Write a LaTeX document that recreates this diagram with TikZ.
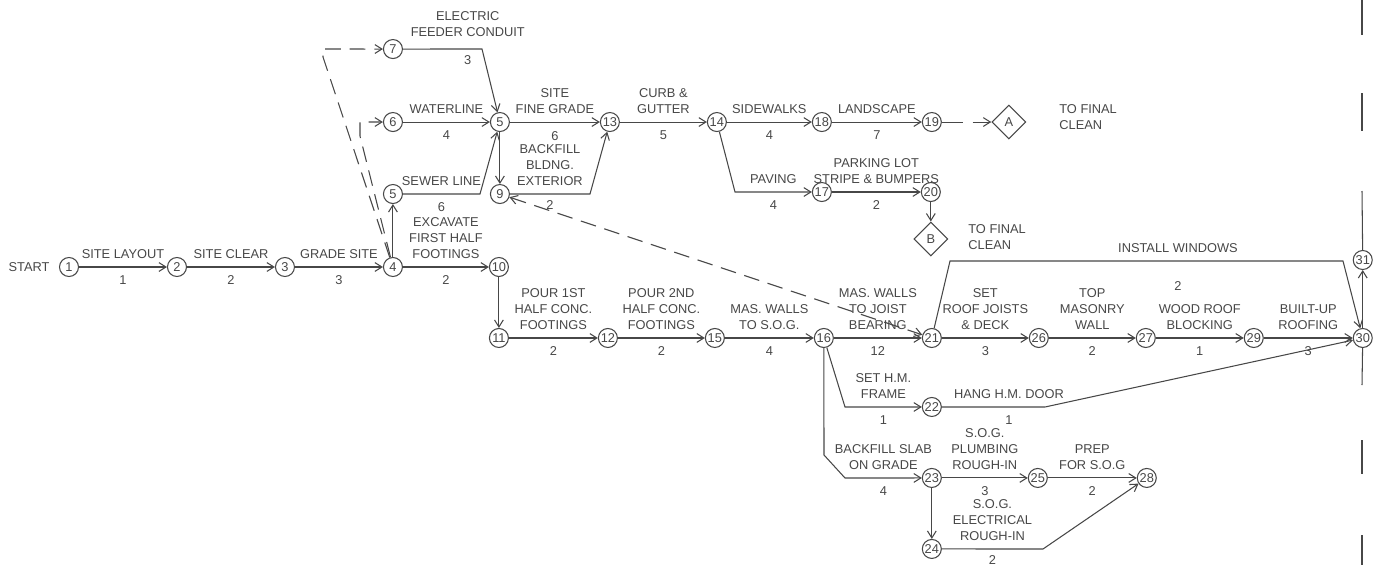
\documentclass[tikz,border=0pt]{standalone}
\usepackage{fontspec}
\setmainfont{Liberation Sans}
\usepackage{tikz}
\usetikzlibrary{shapes.geometric,arrows.meta,positioning}

\begin{document}
\begin{tikzpicture}[x=0.02cm, y=-0.02cm, color=black!72, line width=0.6pt,
  >={Straight Barb[length=4pt,width=5pt]},
  every node/.style={font=\fontsize{7.3}{9.3}\selectfont},
  ev/.style={circle, draw, inner sep=0pt, minimum size=0.38cm},
  fin/.style={diamond, draw, inner sep=0pt, minimum size=0.68cm},
  act/.style={above=1pt, align=center},
  dur/.style={below=1.5pt},
  dummy/.style={dash pattern=on 9pt off 5pt}]
  \useasboundingbox (0,0) rectangle (1380,565);

  \node (start) at (29,267) {START};
  \node [ev] (E1) at (69,267) {1};
  \node [ev, right of=E1, node distance=2.16cm] (E2) {2};
  \node [ev, right of=E2, node distance=2.16cm] (E3) {3};
  \node [ev, right of=E3, node distance=2.16cm] (E4) {4};
  \node [ev, above of=E4, node distance=1.46cm] (E5s) {5};
  \node [ev, above of=E5s, node distance=1.44cm] (E6) {6};
  \node [ev, above of=E6, node distance=1.46cm] (E7) {7};
  \node [ev, right of=E6, node distance=2.14cm] (E5) {5};
  \node [ev, below of=E5, node distance=1.44cm] (E9) {9};
  \node [ev, right of=E5, node distance=2.2cm] (E13) {13};
  \node [ev, right of=E13, node distance=2.14cm] (E14) {14};
  \node [ev, right of=E14, node distance=2.1cm] (E18) {18};
  \node [ev, right of=E18, node distance=2.2cm] (E19) {19};
  \node [fin, right of=E19, node distance=1.54cm] (FA) {A};
  \node [anchor=west, align=left] (cleanA) at (1053,117) {TO FINAL\\CLEAN};
  \node [ev, below of=E18, node distance=1.4cm] (E17) {17};
  \node [ev, right of=E17, node distance=2.18cm] (E20) {20};
  \node [fin, below of=E20, node distance=0.94cm] (FB) {B};
  \node [anchor=west, align=left] (cleanB) at (962,237) {TO FINAL\\CLEAN};
  \node [ev, right of=E4, node distance=2.12cm] (E10) {10};
  \node [ev, below of=E10, node distance=1.42cm] (E11) {11};
  \node [ev, right of=E11, node distance=2.18cm] (E12) {12};
  \node [ev, right of=E12, node distance=2.14cm] (E15) {15};
  \node [ev, right of=E15, node distance=2.18cm] (E16) {16};
  \node [ev, right of=E16, node distance=2.16cm] (E21) {21};
  \node [ev, right of=E21, node distance=2.14cm] (E26) {26};
  \node [ev, right of=E26, node distance=2.14cm] (E27) {27};
  \node [ev, right of=E27, node distance=2.16cm] (E29) {29};
  \node [ev, right of=E29, node distance=2.18cm] (E30) {30};
  \node [ev, above of=E30, node distance=1.56cm] (E31) {31};
  \node [ev, below of=E21, node distance=1.38cm] (E22) {22};
  \node [ev, below of=E22, node distance=1.42cm] (E23) {23};
  \node [ev, below of=E23, node distance=1.42cm] (E24) {24};
  \node [ev, right of=E23, node distance=2.12cm] (E25) {25};
  \node [ev, right of=E25, node distance=2.18cm] (E28) {28};

  % site work
  \draw [->] (E1) -- node[act] {SITE LAYOUT} node[dur] {1} (E2);
  \draw [->] (E2) -- node[act] {SITE CLEAR} node[dur] {2} (E3);
  \draw [->] (E3) -- node[act] {GRADE SITE} node[dur] {3} (E4);
  \draw [->] (E4) -- node[act] {EXCAVATE\\FIRST HALF\\FOOTINGS} node[dur] {2} (E10);
  \draw [->] (E4) -- (E5s);
  \draw [->, dummy] (E4) -- (360,136) -- (360,122) -- (E6);
  \draw [->, dummy] (E4) -- (323,57) -- (323,49) -- (E7);
  \draw [->] (E6) -- node[act] {WATERLINE} node[dur] {4} (E5);
  \draw [->] (E5s) -- node[act] {SEWER LINE} node[dur] {6} (480,194) -- (E5);
  \draw [->] (E7) -- node[act, pos=0.82, above=3.5pt] {ELECTRIC\\FEEDER CONDUIT} node[dur, pos=0.82, below=0pt] {3} (482,49) -- (E5);
  \draw [->] (E5) -- node[act] {SITE\\FINE GRADE} node[dur] {6} (E13);
  \draw [->] (E5) -- (E9);
  \draw [->] (E9) -- node[act] {BACKFILL\\BLDNG.\\EXTERIOR} node[dur, below=0pt] {2} (590,194) -- (E13);
  \draw [->] (E13) -- node[act] {CURB \&\\GUTTER} node[dur] {5} (E14);
  \draw [->] (E14) -- node[act] {SIDEWALKS} node[dur] {4} (E18);
  \draw [->] (E18) -- node[act] {LANDSCAPE} node[dur] {7} (E19);
  \draw [->, dash pattern=on 12pt off 5.5pt on 20pt off 0pt] (E19) -- (FA);
  \draw [->] (E14) -- (735,192) -- node[act] {PAVING} node[dur] {4} (E17);
  \draw [->] (E17) -- node[act] {PARKING LOT\\STRIPE \& BUMPERS} node[dur] {2} (E20);
  \draw [->] (E20) -- (FB);
  \draw [<->, dummy] (E9) -- (E21);

  % footings and shell
  \draw [->] (E10) -- (E11);
  \draw [->] (E11) -- node[act] {POUR 1ST\\HALF CONC.\\FOOTINGS} node[dur] {2} (E12);
  \draw [->] (E12) -- node[act] {POUR 2ND\\HALF CONC.\\FOOTINGS} node[dur] {2} (E15);
  \draw [->] (E15) -- node[act] {MAS. WALLS\\TO S.O.G.} node[dur] {4} (E16);
  \draw [->] (E16) -- node[act] {MAS. WALLS\\TO JOIST\\BEARING} node[dur] {12} (E21);
  \draw [->] (E21) -- node[act] {SET\\ROOF JOISTS\\\& DECK} node[dur] {3} (E26);
  \draw [->] (E26) -- node[act] {TOP\\MASONRY\\WALL} node[dur] {2} (E27);
  \draw [->] (E27) -- node[act] {WOOD ROOF\\BLOCKING} node[dur] {1} (E29);
  \draw [->] (E29) -- node[act] {BUILT-UP\\ROOFING} node[dur] {3} (E30);
  \draw [->] (E21) -- (950,261) -- node[act, pos=0.58] {INSTALL WINDOWS} node[dur, pos=0.58, below=8pt] {2} (1343,261) -- (E30);
  \draw [->] (E30) -- (E31);
  \draw [->] (E16) -- (845,407) -- node[act] {SET H.M.\\FRAME} node[dur] {1} (E22);
  \draw [->] (E22) -- node[act, pos=0.65] {HANG H.M. DOOR} node[dur, pos=0.65] {1} (1045,407) -- (E30);

  % slab on grade
  \draw [->] (E16) -- (824,455) -- (845,478) -- node[act] {BACKFILL SLAB\\ON GRADE} node[dur] {4} (E23);
  \draw [->] (E23) -- node[act] {S.O.G.\\PLUMBING\\ROUGH-IN} node[dur] {3} (E25);
  \draw [->] (E25) -- node[act] {PREP\\FOR S.O.G} node[dur] {2} (E28);
  \draw [->] (E23) -- (E24);
  \draw [->] (E24) -- node[act] {S.O.G.\\ELECTRICAL\\ROUGH-IN} node[dur, below=0pt] {2} (1043,549) -- (E28);

  % match line
  \draw (1362,0) -- (1362,35);
  \draw (1362,93) -- (1362,131);
  \draw (1362,191) -- (E31);
  \draw (E30) -- (1362,385);
  \draw (1362,440) -- (1362,474);
  \draw (1362,535) -- (1362,565);
\end{tikzpicture}
\end{document}
